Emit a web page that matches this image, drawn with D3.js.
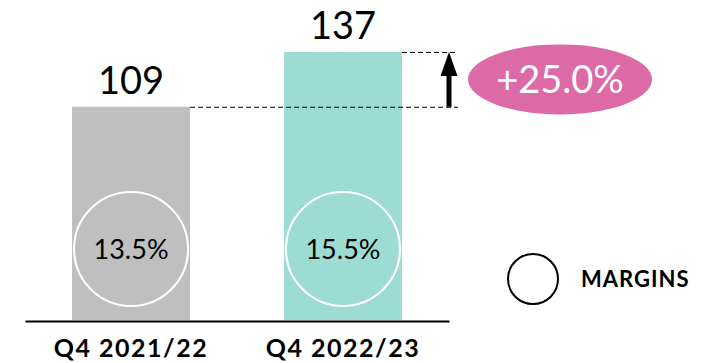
<!DOCTYPE html>
<html>
<head>
<meta charset="utf-8">
<script src="https://cdn.jsdelivr.net/npm/d3@7"></script>
<style>
  html, body { margin: 0; padding: 0; background: #fff; }
  svg { display: block; font-family: Lato, "Open Sans", sans-serif; }
</style>
</head>
<body>
<svg id="chart" width="711" height="363"></svg>
<script>
// Quarterly figures and their margins
const categories = ["Q4 2021/22", "Q4 2022/23"];
const values = [109, 137];
const margins = ["13.5%", "15.5%"];
const growthLabel = "+25.0%";
const legendLabel = "MARGINS";
const barColors = ["#bfbfbf", "#9ddcd2"];

const svg = d3.select("#chart");
const baseline = 320;

const x = d3.scaleBand()
  .domain(categories)
  .range([25, 449])
  .paddingInner(0.443)
  .paddingOuter(0.222);

const y = d3.scaleLinear()
  .domain([0, d3.max(values)])
  .range([baseline, 52]);

const data = categories.map((c, i) => ({ c, v: values[i], m: margins[i], color: barColors[i] }));

// Bars
svg.append("g").selectAll("rect")
  .data(data)
  .join("rect")
  .attr("x", d => x(d.c))
  .attr("y", d => y(d.v))
  .attr("width", x.bandwidth())
  .attr("height", d => baseline - y(d.v))
  .attr("fill", d => d.color);

// Value labels above bars
svg.append("g").selectAll("text")
  .data(data)
  .join("text")
  .attr("x", d => x(d.c) + x.bandwidth() / 2)
  .attr("y", d => y(d.v) - 13)
  .attr("text-anchor", "middle")
  .attr("font-size", 38)
  .attr("fill", "#000")
  .text(d => d.v);

// Margin circles inside bars
const mg = svg.append("g").selectAll("g")
  .data(data)
  .join("g")
  .attr("transform", d => `translate(${x(d.c) + x.bandwidth() / 2},249)`);
mg.append("circle")
  .attr("r", 57)
  .attr("fill", "none")
  .attr("stroke", "#fff")
  .attr("stroke-width", 2);
mg.append("text")
  .attr("y", 10)
  .attr("text-anchor", "middle")
  .attr("font-size", 27)
  .attr("fill", "#000")
  .text(d => d.m);

// Baseline axis
const xAxis = d3.axisBottom(x).tickSize(0).tickPadding(18);
const axisG = svg.append("g")
  .attr("transform", `translate(0,${baseline + 1})`)
  .call(xAxis);
axisG.select(".domain")
  .attr("stroke", "#000")
  .attr("stroke-width", 2);
axisG.selectAll(".tick text")
  .attr("font-family", "Lato, sans-serif")
  .attr("font-size", 25)
  .attr("font-weight", "bold")
  .attr("letter-spacing", 1.5)
  .attr("fill", "#000");

// Dashed guides from the bar tops
const guideEnd = 458;
svg.append("g").selectAll("line")
  .data(data)
  .join("line")
  .attr("x1", d => x(d.c) + x.bandwidth())
  .attr("x2", guideEnd)
  .attr("y1", d => y(d.v) + 0.5)
  .attr("y2", d => y(d.v) + 0.5)
  .attr("stroke", "#000")
  .attr("stroke-width", 1)
  .attr("stroke-dasharray", "5,3");

// Growth arrow
const ax = 449;
const yLow = y(values[0]);
const yHigh = y(values[1]);
svg.append("line")
  .attr("x1", ax).attr("x2", ax)
  .attr("y1", yLow).attr("y2", yHigh + 20)
  .attr("stroke", "#000")
  .attr("stroke-width", 5);
svg.append("path")
  .attr("d", `M${ax},${yHigh} L${ax + 8.5},${yHigh + 24} L${ax - 8.5},${yHigh + 24} Z`)
  .attr("fill", "#000");

// Growth pill
const pillY = (yLow + yHigh) / 2;
svg.append("ellipse")
  .attr("cx", 560).attr("cy", pillY)
  .attr("rx", 92).attr("ry", 35)
  .attr("fill", "#dc6aa7");
svg.append("text")
  .attr("x", 560).attr("y", pillY + 14)
  .attr("text-anchor", "middle")
  .attr("font-size", 38)
  .attr("fill", "#fff")
  .text(growthLabel);

// Legend
svg.append("circle")
  .attr("cx", 533).attr("cy", 279).attr("r", 25)
  .attr("fill", "none")
  .attr("stroke", "#000")
  .attr("stroke-width", 2);
svg.append("text")
  .attr("x", 581).attr("y", 287)
  .attr("font-size", 22)
  .attr("font-weight", "bold")
  .attr("letter-spacing", 1)
  .attr("fill", "#000")
  .text(legendLabel);
</script>
</body>
</html>
